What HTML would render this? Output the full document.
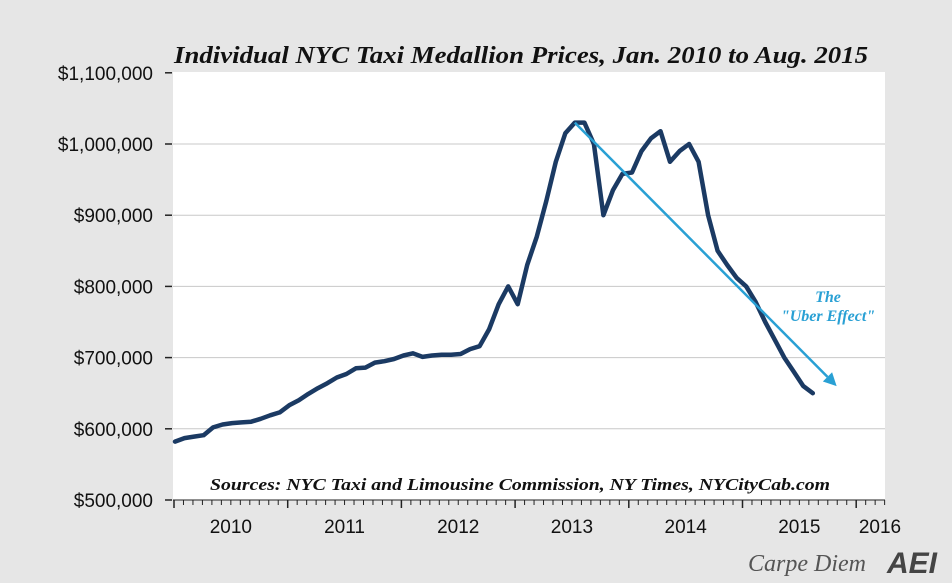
<!DOCTYPE html>
<html><head><meta charset="utf-8"><style>
body{margin:0;background:#e6e6e6;width:952px;height:583px;overflow:hidden}
svg{display:block}
</style></head><body>
<svg id="chart" width="952" height="583" xmlns="http://www.w3.org/2000/svg">
<rect x="0" y="0" width="952" height="583" fill="#e6e6e6"/>
<rect x="173" y="72" width="712" height="428" fill="#ffffff"/>
<text x="521" y="63" text-anchor="middle" textLength="694" lengthAdjust="spacingAndGlyphs" font-family="'Liberation Serif',serif" font-weight="bold" font-style="italic" font-size="24" fill="#111">Individual NYC Taxi Medallion Prices, Jan. 2010 to Aug. 2015</text>
<g id="grid"></g><g id="yaxis"></g><g id="xaxis"></g><g id="series"></g>
<text x="520" y="490" text-anchor="middle" textLength="620" lengthAdjust="spacingAndGlyphs" font-family="'Liberation Serif',serif" font-weight="bold" font-style="italic" font-size="17" fill="#111">Sources: NYC Taxi and Limousine Commission, NY Times, NYCityCab.com</text>
<text x="828" y="302" text-anchor="middle" font-family="'Liberation Serif',serif" font-weight="bold" font-style="italic" font-size="16" fill="#29a0d4">The</text>
<text x="828" y="321" text-anchor="middle" font-family="'Liberation Serif',serif" font-weight="bold" font-style="italic" font-size="16" fill="#29a0d4">"Uber Effect"</text>
<text x="866" y="571" text-anchor="end" font-family="'Liberation Serif',serif" font-style="italic" font-size="24" fill="#555">Carpe Diem</text>
<text x="912" y="573" text-anchor="middle" font-family="'Liberation Sans',sans-serif" font-weight="bold" font-style="italic" font-size="30" fill="#444">AEI</text>
</svg>
<script>
const yTicks=[500000,600000,700000,800000,900000,1000000,1100000];
const yTickLabels=["$500,000","$600,000","$700,000","$800,000","$900,000","$1,000,000","$1,100,000"];
const xYears=[2010,2011,2012,2013,2014,2015,2016];
const prices=[582,587,589,591,602,606,608,609,610,614,619,623,633,640,649,657,664,672,677,685,686,693,695,698,703,706,701,703,704,704,705,712,716,740,775,800,775,830,870,920,975,1015,1030,1030,1000,900,935,958,960,990,1008,1018,975,990,1000,975,900,850,830,812,800,778,750,725,700,680,660,650];
const trendStart=[42,1030];
const trendEnd=[69.5,660];
const NS="http://www.w3.org/2000/svg";
function y(v){return 500-(v-500000)/100000*71.2;}
function xm(i){return 175+i*9.52;}
function xy(yr){return 174+(yr-2010)*113.7;}
function mk(tag,attrs,parent){const e=document.createElementNS(NS,tag);for(const k in attrs)e.setAttribute(k,attrs[k]);parent.appendChild(e);return e;}
const grid=document.getElementById('grid'),ya=document.getElementById('yaxis'),xa=document.getElementById('xaxis'),se=document.getElementById('series');
yTicks.forEach((t,k)=>{
  const yy=y(t);
  if(k>0&&k<yTicks.length-1){const g=mk('line',{x1:173,x2:885,y1:yy,y2:yy,stroke:'#c8c8c8','stroke-width':1},grid);
  
  }
  const tk=mk('line',{x1:165,x2:172,y1:yy,y2:yy,stroke:'#222','stroke-width':1.5},ya);
  
  
  const tx=mk('text',{x:153,y:yy+7,'text-anchor':'end','font-family':"'Liberation Sans',sans-serif",'font-size':19,fill:'#111'},ya);
  tx.textContent=yTickLabels[k];
  
  
});
const ax=mk('line',{x1:173,x2:885,y1:500,y2:500,stroke:'#222','stroke-width':1},xa);


for(let m=0;m<=75;m++){
  const xx=174+m*113.7/12; if(xx>886)break;
  const major=m%12===0;
  const t=mk('line',{x1:xx,x2:xx,y1:500,y2:major?508:505,stroke:'#222','stroke-width':major?1.5:1},xa);
  
  
}
xYears.forEach(yr=>{
  let cx=xy(yr+0.5); if(cx>880)cx=880;
  const t=mk('text',{x:cx,y:533,'text-anchor':'middle','font-family':"'Liberation Sans',sans-serif",'font-size':19,fill:'#111'},xa);
  t.textContent=yr;
  
  
});
const pts=prices.map((v,i)=>xm(i).toFixed(1)+','+y(v*1000).toFixed(1)).join(' ');
const line=mk('polyline',{points:pts,fill:'none',stroke:'#1b3a63','stroke-width':4.5,'stroke-linejoin':'round','stroke-linecap':'round'},se);


const x1=xm(trendStart[0]),y1=y(trendStart[1]*1000),x2=xm(trendEnd[0]),y2=y(trendEnd[1]*1000);
const ang=Math.atan2(y2-y1,x2-x1),L=13,W=6.5;
const bx=x2-L*Math.cos(ang),by=y2-L*Math.sin(ang);
const tl=mk('line',{x1:x1,y1:y1,x2:bx,y2:by,stroke:'#29a0d4','stroke-width':2.5},se);


const hd=mk('polygon',{points:`${x2},${y2} ${bx+W*Math.sin(ang)},${by-W*Math.cos(ang)} ${bx-W*Math.sin(ang)},${by+W*Math.cos(ang)}`,fill:'#29a0d4'},se);


</script>
</body></html>
